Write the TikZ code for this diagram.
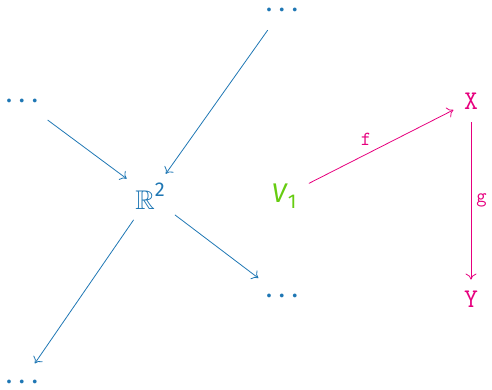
\documentclass[tikz,border=0pt]{standalone}
\usepackage{amssymb}
\usepackage{fontspec}
\setmainfont{Fira Sans}
\usetikzlibrary{arrows.meta}
\definecolor{cblue}{RGB}{31,119,180}
\definecolor{cpink}{RGB}{230,0,126}
\definecolor{cgreen}{RGB}{102,204,17}
\newcommand{\mydots}{.\hspace{6.5pt}.\hspace{6.5pt}.}
\begin{document}
\begin{tikzpicture}[x=1pt,y=-1pt,
  every node/.style={font=\fontsize{27}{32}\selectfont, inner sep=6pt},
  bl/.style={text=cblue},
  dots/.style={text=cblue, font=\fontsize{27}{32}\selectfont, inner sep=14pt},
  pk/.style={text=cpink, font=\fontsize{27}{32}\selectfont\ttfamily},
  lbl/.style={text=cpink, font=\fontsize{20}{24}\selectfont\ttfamily, inner sep=3pt},
  barrow/.style={draw=cblue, line width=0.8pt, -{To[length=6pt,width=11pt]}, shorten <=5pt, shorten >=3pt},
  parrow/.style={draw=cpink, line width=0.8pt, -{To[length=6pt,width=11pt]}, shorten <=7pt, shorten >=5pt}]
\useasboundingbox (0,0) rectangle (492,389);
\node[dots] (t) at (282,10) {\mydots};
\node[dots] (l) at (22,101) {\mydots};
\node[dots] (r) at (282,296) {\mydots};
\node[dots] (b) at (22,382) {\mydots};
\node[bl] (R) at (150,196) {$\mathbb{R}$\raisebox{0.5em}{\fontsize{20}{20}\selectfont 2}};
\node[text=cgreen] (V) at (284,196) {\textit{V}\raisebox{-0.22em}{\fontsize{20}{20}\selectfont 1}};
\node[pk] (X) at (471,101) {X};
\node[pk] (Y) at (471,299) {Y};
\draw[barrow] (l) -- (R);
\draw[barrow] (t) -- (R);
\draw[barrow] (R) -- (b);
\draw[barrow] (R) -- (r);
\draw[parrow] (V) -- node[lbl, above left, pos=0.45, yshift=2pt, xshift=2pt] {f} (X);
\draw[parrow] (X) -- node[lbl, right, xshift=2pt] {g} (Y);
\end{tikzpicture}
\end{document}
